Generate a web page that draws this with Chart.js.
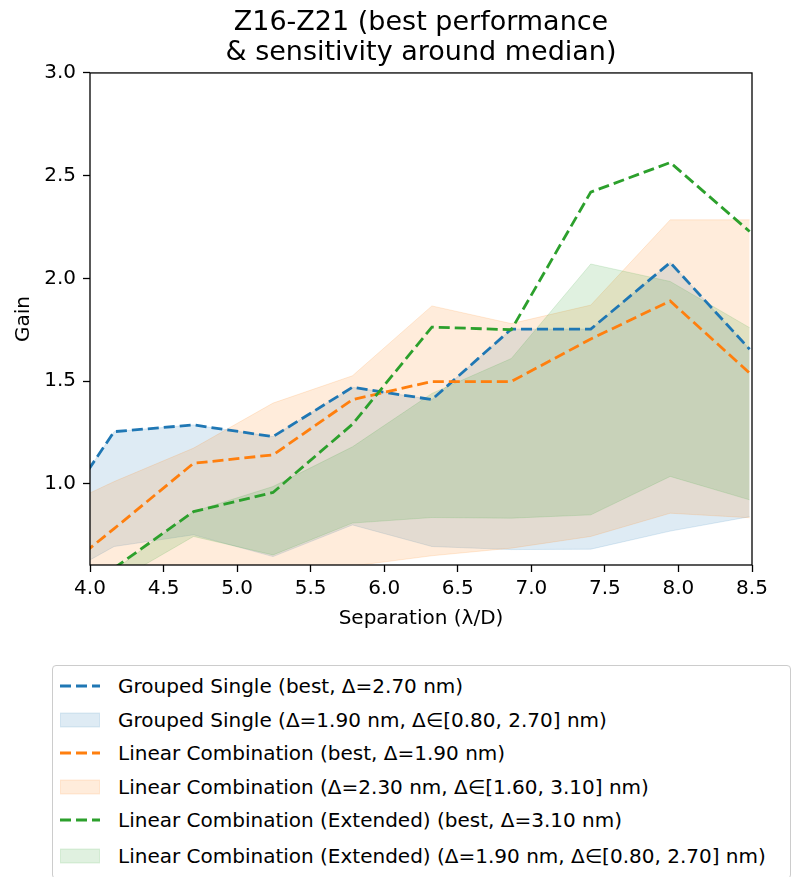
<!DOCTYPE html>
<html><head><meta charset="utf-8">
<script src="https://cdn.jsdelivr.net/npm/chart.js@4.4.1/dist/chart.umd.min.js"></script>
<style>
html,body{margin:0;padding:0;background:#fff;width:796px;height:877px;overflow:hidden;}
#wrap{position:absolute;left:0;top:0;width:796px;height:650px;}
#legend{position:absolute;left:52px;top:665px;width:737px;height:212px;border:1px solid #cccccc;border-radius:4px;font-family:'DejaVu Sans';font-size:20px;color:#000;background:#fff;}
.row{position:absolute;left:0;height:30px;display:flex;align-items:center;white-space:nowrap;}
.row svg{margin-left:7px;margin-right:18px;}
</style>
</head><body>
<div id="wrap"><canvas id="c" width="796" height="650" style="width:796px;height:650px;"></canvas></div>
<div id="legend"></div>
<script>
// ---- data ----
const separation = [3.624, 4.164, 4.704, 5.244, 5.784, 6.324, 6.864, 7.404, 7.944, 8.484];
const groupedBest  = [0.68, 1.254, 1.287, 1.23, 1.47, 1.41, 1.753, 1.753, 2.077, 1.655];
const groupedUpper = [0.68, 1.254, 1.287, 1.23, 1.47, 1.41, 1.753, 1.753, 2.077, 1.655];
const groupedLower = [0.48, 0.695, 0.752, 0.646, 0.80, 0.695, 0.68, 0.682, 0.77, 0.84];
const lcBest  = [0.47, 0.782, 1.10, 1.141, 1.41, 1.498, 1.498, 1.705, 1.89, 1.539];
const lcUpper = [0.83, 1.011, 1.174, 1.393, 1.526, 1.866, 1.78, 1.87, 2.285, 2.285];
const lcLower = [0.64, 0.58, 0.57, 0.56, 0.60, 0.65, 0.687, 0.744, 0.857, 0.835];
const lceBest  = [0.33, 0.59, 0.865, 0.958, 1.29, 1.763, 1.75, 2.42, 2.564, 2.228];
const lceUpper = [0.35, 0.58, 0.865, 0.987, 1.18, 1.44, 1.61, 2.07, 1.985, 1.76];
const lceLower = [0.30, 0.52, 0.744, 0.654, 0.809, 0.836, 0.833, 0.849, 1.036, 0.922];
const xTicks = [4.0, 4.5, 5.0, 5.5, 6.0, 6.5, 7.0, 7.5, 8.0, 8.5];
const yTicks = [1.0, 1.5, 2.0, 2.5, 3.0];
const titleLines = ['Z16-Z21 (best performance', '& sensitivity around median)'];
const xLabel = 'Separation (λ/D)';
const yLabel = 'Gain';
const legendLabels = [
  'Grouped Single (best, Δ=2.70 nm)',
  'Grouped Single (Δ=1.90 nm, Δ∈[0.80, 2.70] nm)',
  'Linear Combination (best, Δ=1.90 nm)',
  'Linear Combination (Δ=2.30 nm, Δ∈[1.60, 3.10] nm)',
  'Linear Combination (Extended) (best, Δ=3.10 nm)',
  'Linear Combination (Extended) (Δ=1.90 nm, Δ∈[0.80, 2.70] nm)'
];

const BLUE = [31,119,180], ORANGE = [255,127,14], GREEN = [44,160,44];
const ALPHA = 0.15;
const rgb = c => `rgb(${c[0]},${c[1]},${c[2]})`;
const rgba = (c,a) => `rgba(${c[0]},${c[1]},${c[2]},${a})`;
const pts = ys => separation.map((x,i) => ({x: x, y: ys[i]}));

function bandPair(lower, upper, col, order){
  return [
    {data: pts(lower), borderColor: rgba(col, ALPHA), borderWidth: 1, pointRadius: 0, fill: false, order: order, tension: 0},
    {data: pts(upper), borderColor: rgba(col, ALPHA), borderWidth: 1, pointRadius: 0, fill: '-1', backgroundColor: rgba(col, ALPHA), order: order, tension: 0}
  ];
}
function bestLine(ys, col, order){
  return {data: pts(ys), borderColor: rgb(col), borderWidth: 2.8, borderDash: [11,5], borderCapStyle: 'butt', pointRadius: 0, fill: false, order: order, tension: 0};
}

const datasets = [
  ...bandPair(groupedLower, groupedUpper, BLUE, 30),
  ...bandPair(lcLower, lcUpper, ORANGE, 20),
  ...bandPair(lceLower, lceUpper, GREEN, 10),
  bestLine(groupedBest, BLUE, 3),
  bestLine(lcBest, ORANGE, 2),
  bestLine(lceBest, GREEN, 1)
];

const FONT = 'DejaVu Sans';
const frame = {id: 'frame', afterDatasetsDraw(chart){
  const {ctx, chartArea: a} = chart;
  ctx.save(); ctx.strokeStyle = '#000'; ctx.lineWidth = 1.3;
  ctx.strokeRect(a.left, a.top, a.right - a.left, a.bottom - a.top);
  ctx.restore();
}};

new Chart(document.getElementById('c'), {
  type: 'line',
  data: {datasets: datasets},
  plugins: [frame],
  options: {
    responsive: false, animation: false, devicePixelRatio: 1,
    layout: {padding: {left: 0, right: 44, top: 0, bottom: 0}},
    plugins: {
      legend: {display: false}, tooltip: {enabled: false},
      filler: {propagate: false},
      title: {display: true, text: titleLines, fullSize: false, color: '#000',
        font: {family: FONT, size: 27, weight: 'normal', lineHeight: 1.11}, padding: {top: 8, bottom: 5}}
    },
    scales: {
      x: {type: 'linear', min: 4, max: 8.5,
        afterBuildTicks: s => { s.ticks = xTicks.map(v => ({value: v})); },
        ticks: {callback: v => Number(v).toFixed(1), color: '#000', font: {family: FONT, size: 20}, padding: 5, maxRotation: 0, autoSkip: false},
        grid: {drawOnChartArea: false, drawTicks: true, tickLength: 7, tickColor: '#000', tickWidth: 1.3},
        border: {display: false},
        title: {display: true, text: xLabel, color: '#000', font: {family: FONT, size: 20}, padding: {top: 0, bottom: 19}},
        afterFit: s => { s.height = 85; s.paddingLeft = 0; s.paddingRight = 0; }
      },
      y: {type: 'linear', min: 0.605, max: 3.0,
        afterBuildTicks: s => { s.ticks = yTicks.map(v => ({value: v})); },
        ticks: {callback: v => Number(v).toFixed(1), color: '#000', font: {family: FONT, size: 20}, padding: 7, autoSkip: false},
        grid: {drawOnChartArea: false, drawTicks: true, tickLength: 7, tickColor: '#000', tickWidth: 1.3},
        border: {display: false},
        title: {display: true, text: yLabel, color: '#000', font: {family: FONT, size: 20}, padding: {top: 12, bottom: 0}},
        afterFit: s => { s.width = 90; s.paddingTop = 0; s.paddingBottom = 0; }
      }
    }
  }
});

// ---- legend (HTML) ----
const legendCenters = [686, 720, 753, 787, 820, 856];
const legendKinds = [['line', BLUE], ['patch', BLUE], ['line', ORANGE], ['patch', ORANGE], ['line', GREEN], ['patch', GREEN]];
const lg = document.getElementById('legend');
legendLabels.forEach((lab, i) => {
  const row = document.createElement('div');
  row.className = 'row';
  row.style.top = (legendCenters[i] - 666 - 15) + 'px';
  const [kind, col] = legendKinds[i];
  let svg;
  if (kind === 'line') {
    svg = `<svg width="40" height="16"><line x1="0" y1="8" x2="40" y2="8" stroke="${rgb(col)}" stroke-width="2.8" stroke-dasharray="11 5"/></svg>`;
  } else {
    svg = `<svg width="40" height="16"><rect x="0.5" y="1" width="39" height="14" fill="${rgba(col, ALPHA)}" stroke="${rgba(col, ALPHA)}" stroke-width="1"/></svg>`;
  }
  row.innerHTML = svg + '<span></span>';
  row.querySelector('span').textContent = lab;
  lg.appendChild(row);
});
</script>
</body></html>
